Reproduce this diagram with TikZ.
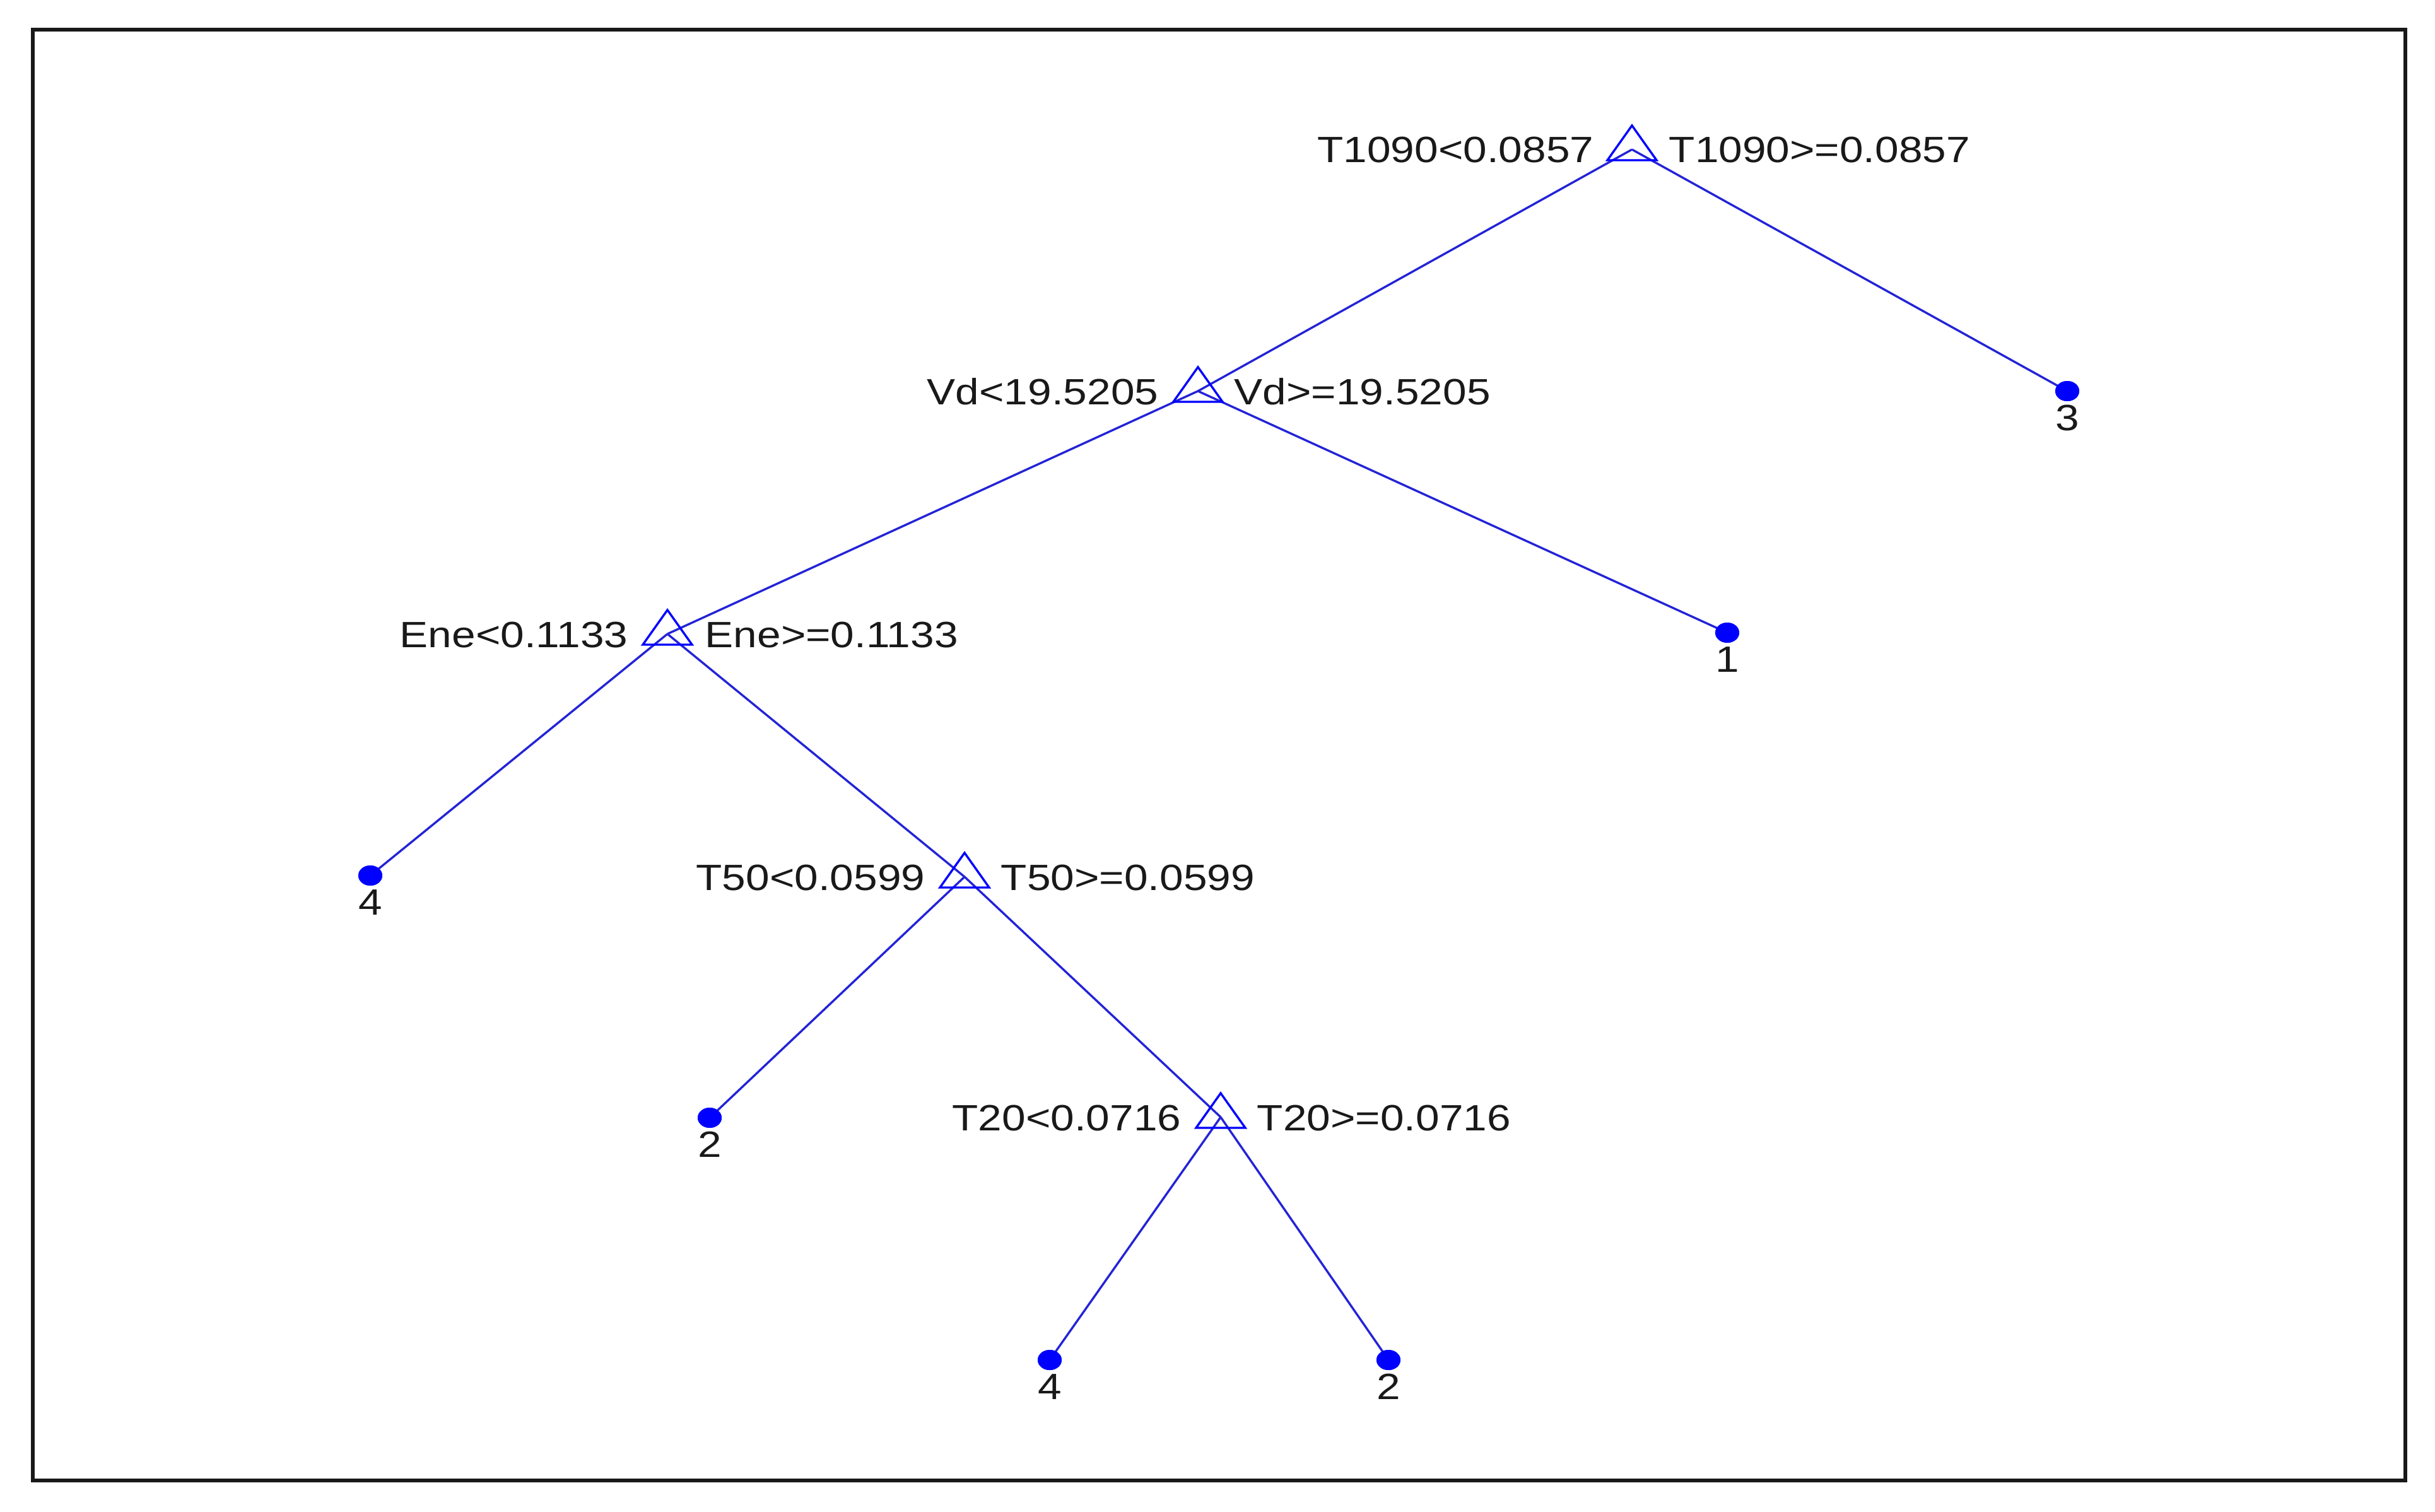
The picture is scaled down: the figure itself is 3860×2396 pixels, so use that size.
\documentclass[tikz,border=0pt]{standalone}
\usepackage{fontspec}
\setmainfont[FakeStretch=1.165]{Liberation Sans}
\usetikzlibrary{shapes.geometric}
\definecolor{mblue}{RGB}{0,0,255}
\definecolor{edgeblue}{RGB}{35,35,215}
\definecolor{txt}{RGB}{25,25,25}
\begin{document}
\begin{tikzpicture}[x=0.25pt,y=-0.25pt,
  edge/.style={draw=edgeblue, line width=0.85pt},
  leaf/.style={ellipse, fill=mblue, inner sep=0pt, minimum width=9.5pt, minimum height=8pt},
  lbl/.style={inner sep=0pt, text=txt, font=\fontsize{14.5pt}{17pt}\selectfont},
  splitmark/.pic={\draw[draw=mblue, line width=0.85pt, line join=miter] (0,-38) -- (39,17) -- (-39,17) -- cycle;}
]
\useasboundingbox (0,0) rectangle (3860,2396);
\draw[draw=txt, line width=1.3pt] (52,47) rectangle (3813,2347);

% split points
\coordinate (root) at (2587,237);
\coordinate (vd)   at (1899,620);
\coordinate (ene)  at (1058,1005);
\coordinate (t50)  at (1529,1390);
\coordinate (t20)  at (1935,1771);

% leaves
\node[leaf] (l3)  at (3277,620)  {};
\node[leaf] (l1)  at (2738,1003) {};
\node[leaf] (l4a) at (587,1388)  {};
\node[leaf] (l2a) at (1125,1772) {};
\node[leaf] (l4b) at (1664,2156) {};
\node[leaf] (l2b) at (2201,2156) {};

% edges
\draw[edge] (root) -- (vd);
\draw[edge] (root) -- (l3.center);
\draw[edge] (vd) -- (ene);
\draw[edge] (vd) -- (l1.center);
\draw[edge] (ene) -- (l4a.center);
\draw[edge] (ene) -- (t50);
\draw[edge] (t50) -- (l2a.center);
\draw[edge] (t50) -- (t20);
\draw[edge] (t20) -- (l4b.center);
\draw[edge] (t20) -- (l2b.center);

% redraw leaves on top
\node[leaf] at (l3.center)  {};
\node[leaf] at (l1.center)  {};
\node[leaf] at (l4a.center) {};
\node[leaf] at (l2a.center) {};
\node[leaf] at (l4b.center) {};
\node[leaf] at (l2b.center) {};

% split markers
\pic at (root) {splitmark};
\pic at (vd)   {splitmark};
\pic at (ene)  {splitmark};
\pic at (t50)  {splitmark};
\pic at (t20)  {splitmark};

% split labels
\node[lbl, anchor=base east] (rootL) at (2527,258) {T1090<0.0857};
\node[lbl, anchor=base west] (rootR) at (2645,258) {T1090>=0.0857};
\node[lbl, anchor=base east] (vdL) at (1837,641) {Vd<19.5205};
\node[lbl, anchor=base west] (vdR) at (1956,641) {Vd>=19.5205};
\node[lbl, anchor=base east] (eneL) at (996,1026) {Ene<0.1133};
\node[lbl, anchor=base west] (eneR) at (1117,1026) {Ene>=0.1133};
\node[lbl, anchor=base east] (t50L) at (1467,1411) {T50<0.0599};
\node[lbl, anchor=base west] (t50R) at (1586,1411) {T50>=0.0599};
\node[lbl, anchor=base east] (t20L) at (1873,1792) {T20<0.0716};
\node[lbl, anchor=base west] (t20R) at (1992,1792) {T20>=0.0716};

% leaf labels
\node[lbl, anchor=base] (l3t)  at (3277,682)  {3};
\node[lbl, anchor=base] (l1t)  at (2738,1065) {1};
\node[lbl, anchor=base] (l4at) at (587,1450)  {4};
\node[lbl, anchor=base] (l2at) at (1125,1834) {2};
\node[lbl, anchor=base] (l4bt) at (1664,2218) {4};
\node[lbl, anchor=base] (l2bt) at (2201,2218) {2};
\end{tikzpicture}
\end{document}
